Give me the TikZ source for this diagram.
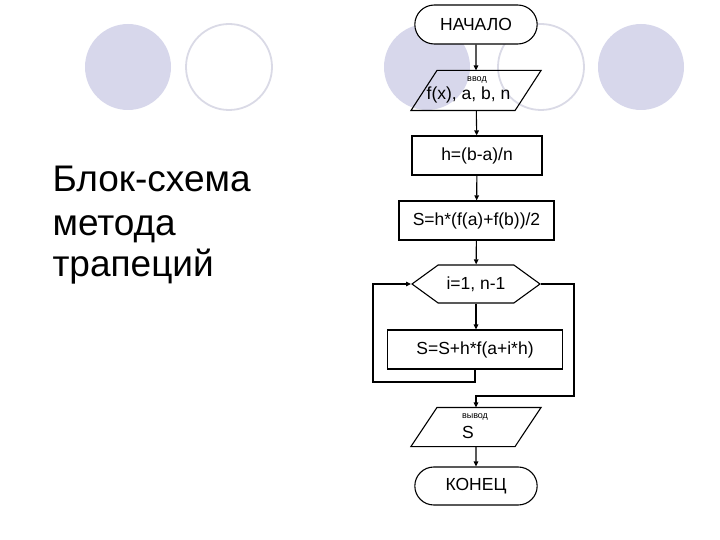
\documentclass[tikz,border=0pt]{standalone}
\usepackage{fontspec}
\setmainfont{Liberation Sans}
\usetikzlibrary{shapes.geometric,shapes.misc,shapes.symbols,arrows.meta,positioning}

\definecolor{lilac}{HTML}{D7D7EB}
\definecolor{ring}{HTML}{DADAE6}

\begin{document}
\begin{tikzpicture}[x=1pt, y=-1pt, line width=1.1pt, >={Triangle[length=5pt,width=4.5pt]},
  disc/.style={circle, fill=lilac, minimum size=86pt, inner sep=0pt},
  hoop/.style={circle, draw=ring, line width=1.8pt, minimum size=86pt, inner sep=0pt},
  term/.style={rounded rectangle, draw, fill=white, minimum width=129pt, minimum height=39pt, font=\fontsize{17.5}{19}\selectfont},
  io/.style={rectangle, minimum width=103pt, minimum height=39pt, inner sep=0pt},
  proc/.style={rectangle, draw, minimum height=39pt, font=\fontsize{17.5}{19}\selectfont},
  cycle/.style={signal, signal to=west and east, signal pointer angle=72, draw,
    minimum width=128pt, minimum height=38pt, font=\fontsize{17.5}{19}\selectfont},
  tag/.style={anchor=base, inner sep=0pt, font=\fontsize{9}{10}\selectfont},
  txt/.style={anchor=base, inner sep=0pt, font=\fontsize{17.5}{19}\selectfont},
  title/.style={anchor=base west, inner sep=0pt, font=\fontsize{37}{42}\selectfont}]
  \useasboundingbox (0,0) rectangle (720,540);

  % background circles
  \node[disc] (c1) at (128,67) {};
  \node[hoop] (c2) at (229,67) {};
  \node[disc] (c3) at (427,67) {};
  \node[hoop] (c4) at (541,67) {};
  \node[disc] (c5) at (641,67) {};

  % title
  \node[title] (t1) at (52,192) {Блок-схема};
  \node[title] (t2) at (52,236) {метода};
  \node[title] (t3) at (52,276) {трапеций};

  % flowchart
  \node[term] (start) at (476,24.5) {НАЧАЛО};
  \node[io] (in) at (476,90.5) {};
  \draw ([xshift=-13pt]in.south west) -- ([xshift=13pt]in.north west)
    -- ([xshift=13pt]in.north east) -- ([xshift=-13pt]in.south east) -- cycle;
  \node[tag] (intag) at (477,82) {ввод};
  \node[txt] (intxt) at (468.5,100) {f(x), a, b, n};
  \node[proc, minimum width=130pt] (step) at (477,155.5) {h=(b-a)/n};
  \node[proc, minimum width=155pt] (init) at (476.5,220.5) {S=h*(f(a)+f(b))/2};
  \node[cycle] (loop) at (476,284) {i=1, n-1};
  \node[proc, minimum width=175pt] (body) at (475,349.5) {S=S+h*f(a+i*h)};
  \node[io, minimum height=38pt] (out) at (476,427) {};
  \draw ([xshift=-13pt]out.south west) -- ([xshift=13pt]out.north west)
    -- ([xshift=13pt]out.north east) -- ([xshift=-13pt]out.south east) -- cycle;
  \node[tag] (outtag) at (475,418) {вывод};
  \node[txt] (outtxt) at (468,438) {S};
  \node[term, minimum height=38pt] (stop) at (476,486) {КОНЕЦ};

  \coordinate (back) at (373,382);
  \coordinate (exit) at (574,396);

  \draw[->] (start) -- (in);
  \draw[->] (in) -- (step);
  \draw[->] (step) -- (init);
  \draw[->] (init) -- (loop);
  \draw[->] (loop.south) -- (loop.south |- body.north);
  \draw[->] (body.south) |- (back) |- (loop.west);
  \draw[->] (loop.east) -| (exit) -| (out.north);
  \draw[->] (out) -- (stop);
\end{tikzpicture}
\end{document}
